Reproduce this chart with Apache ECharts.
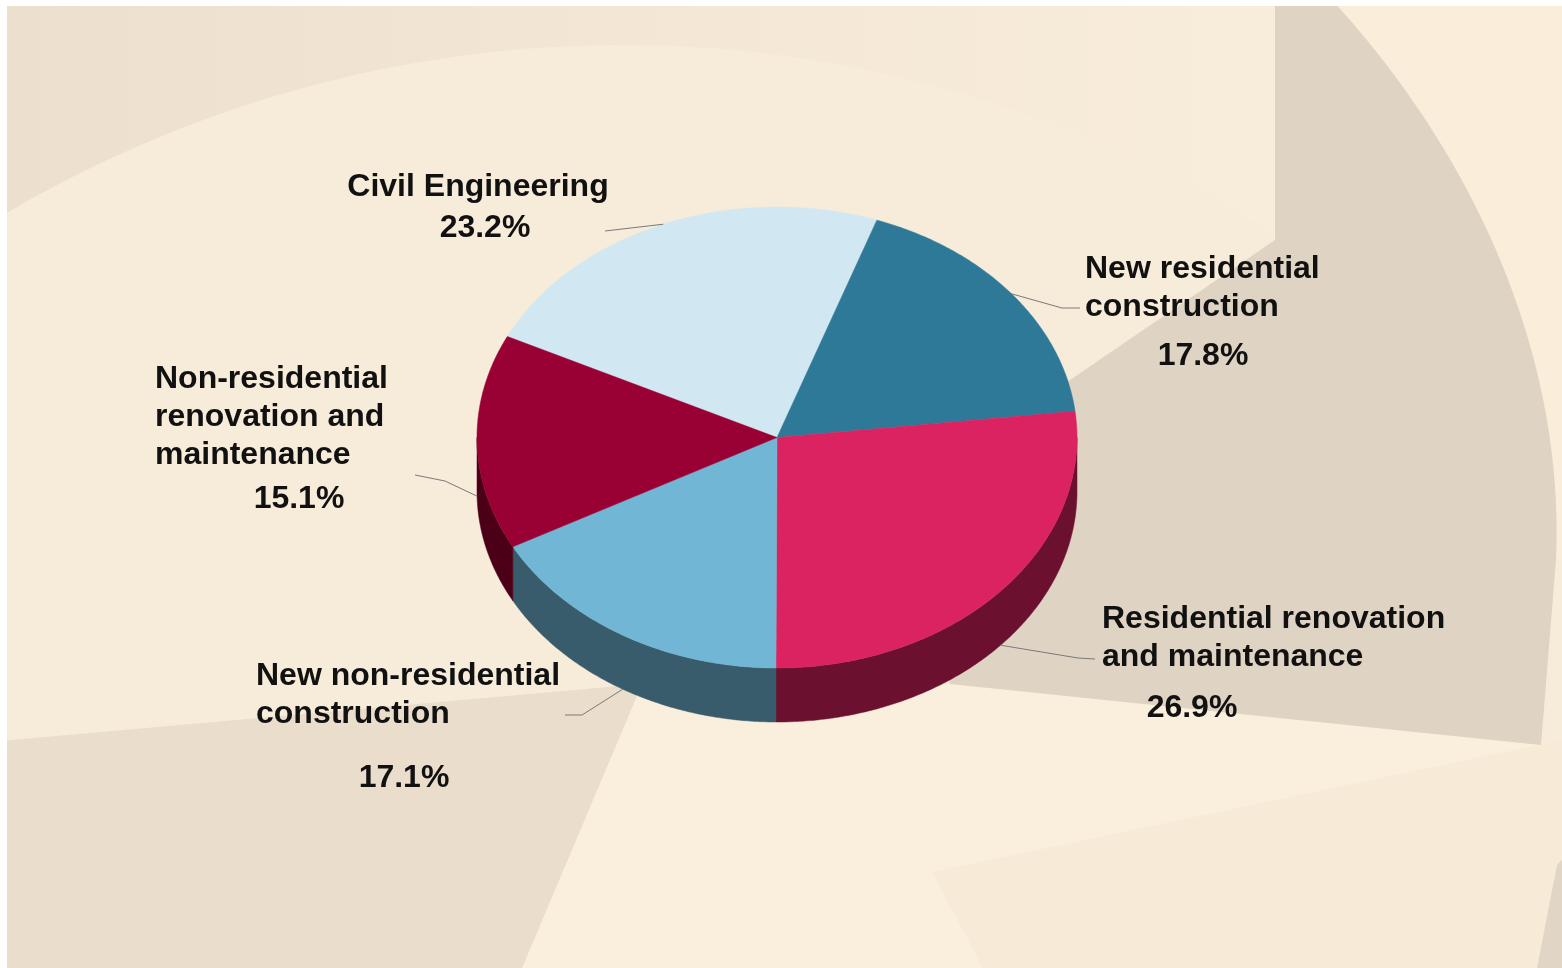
<!DOCTYPE html>
<html><head><meta charset="utf-8">
<script src="https://cdn.jsdelivr.net/npm/echarts@6/dist/echarts.min.js"></script>
<style>html,body{margin:0;padding:0;background:#fff;overflow:hidden}#c{width:1562px;height:968px}</style>
</head><body><div id="c"></div>
<script>
// ---- data ----
const categories = ['Civil Engineering', 'New residential\nconstruction', 'Residential renovation\nand maintenance', 'New non-residential\nconstruction', 'Non-residential\nrenovation and\nmaintenance'];
const shares = [23.2, 17.8, 26.9, 17.1, 15.1];
const shareLabels = ['23.2%', '17.8%', '26.9%', '17.1%', '15.1%'];

// ---- styles ----
const topColors = ['#D1E8F2', '#2E7898', '#DA2360', '#71B7D5', '#990033'];
const sideColors = ['#8FA6B0', '#1E5068', '#6C1030', '#385C6B', '#4B0018'];
const PIE = { cx: 777, cy: 437.5, rx: 300, ry: 230.5, depth: 54, start: 206 };
const FONT = 'bold 32px "Liberation Sans", Arial, sans-serif';
const labelLayout = [
  { name: [478, 187, 'center'], pct: [485, 228], line: [[605, 231]] },
  { name: [1085, 269, 'left'], pct: [1203, 356], line: [[1062, 308], [1080, 308]] },
  { name: [1102, 619, 'left'], pct: [1192, 708], line: [[1078, 658], [1095, 659]] },
  { name: [256, 676, 'left'], pct: [404, 778], line: [[582, 715], [565, 715]] },
  { name: [155, 379, 'left'], pct: [299, 499], line: [[445, 481], [415, 475]] }
];

const total = shares.reduce((a, b) => a + b, 0);
function pt(deg, dy) {
  const r = deg * Math.PI / 180;
  return [PIE.cx + PIE.rx * Math.cos(r), PIE.cy + PIE.ry * Math.sin(r) + (dy || 0)];
}
function arc(a, b, dy) {
  const pts = [];
  const n = Math.max(2, Math.ceil(Math.abs(b - a) / 0.5));
  for (let k = 0; k <= n; k++) pts.push(pt(a + (b - a) * k / n, dy));
  return pts;
}
function bezier(p0, p1, p2, p3) {
  const pts = [];
  for (let k = 0; k <= 60; k++) {
    const t = k / 60, u = 1 - t;
    pts.push([
      u * u * u * p0[0] + 3 * u * u * t * p1[0] + 3 * u * t * t * p2[0] + t * t * t * p3[0],
      u * u * u * p0[1] + 3 * u * u * t * p1[1] + 3 * u * t * t * p2[1] + t * t * t * p3[1]
    ]);
  }
  return pts;
}

function renderItem(params, api) {
  const i = params.dataIndex;
  let cum = 0;
  for (let j = 0; j < i; j++) cum += shares[j];
  const a0 = PIE.start + cum / total * 360;
  const a1 = a0 + shares[i] / total * 360;
  const children = [];
  [0, 360, 720].forEach(k => {
    const s = Math.max(a0, k), e = Math.min(a1, k + 180);
    if (s < e) {
      const pts = arc(s, e, 0).concat(arc(e, s, PIE.depth));
      children.push({ type: 'polygon', shape: { points: pts }, style: { fill: sideColors[i], stroke: sideColors[i], lineWidth: 0.5 } });
    }
  });
  children.push({ type: 'polygon', shape: { points: [[PIE.cx, PIE.cy]].concat(arc(a0, a1, 0)) }, style: { fill: topColors[i], stroke: topColors[i], lineWidth: 0.5 } });
  const mid = (a0 + a1) / 2;
  const front = Math.sin(mid * Math.PI / 180) > 0;
  const L = labelLayout[i];
  children.push({ type: 'polyline', shape: { points: [pt(mid, front ? PIE.depth : 0)].concat(L.line) }, style: { stroke: '#7a7a7a', lineWidth: 1, fill: null } });
  children.push({ type: 'text', style: { text: categories[i], x: L.name[0], y: L.name[1] - 19, font: FONT, fill: '#111', align: L.name[2], verticalAlign: 'top', lineHeight: 38 } });
  children.push({ type: 'text', style: { text: shareLabels[i], x: L.pct[0], y: L.pct[1], font: FONT, fill: '#111', align: 'center', verticalAlign: 'middle' } });
  return { type: 'group', children: children };
}

const curve = bezier([1332, 0], [1470, 150], [1565, 350], [1556, 560]);
const bg = [
  { type: 'rect', z: 0, shape: { x: 0, y: 0, width: 1562, height: 968 }, style: { fill: { type: 'linear', x: 0, y: 0, x2: 1, y2: 0, colorStops: [{ offset: 0, color: '#ECDFCE' }, { offset: 0.45, color: '#F4E7D6' }, { offset: 0.8, color: '#F8ECDA' }, { offset: 1, color: '#F9EDDA' }] } } },
  { type: 'circle', z: 1, shape: { cx: 623, cy: 1259, r: 1214 }, style: { fill: '#F7EBD9' } },
  { type: 'polygon', z: 2, shape: { points: [[642, 684], [950, 684], [1541, 745], [1562, 745], [1562, 968], [522, 968]] }, style: { fill: '#FAEFDC' } },
  { type: 'polygon', z: 3, shape: { points: [[932, 872], [1562, 740], [1562, 968], [983, 968]] }, style: { fill: '#F7EBD8' } },
  { type: 'polygon', z: 3, shape: { points: [[1557, 865], [1562, 860], [1562, 968], [1537, 968]] }, style: { fill: '#E1D5C6' } },
  { type: 'polygon', z: 2, shape: { points: curve.concat([[1562, 560], [1562, 0]]) }, style: { fill: '#FAEDD9' } },
  { type: 'polygon', z: 3, shape: { points: [[1275, 0]].concat(curve, [[1541, 745], [950, 684], [900, 500], [1040, 400.5], [1275, 240]]) }, style: { fill: '#DFD3C4' } },
  { type: 'polygon', z: 3, shape: { points: [[0, 741], [642, 684], [522, 968], [0, 968]] }, style: { fill: '#EADDCC' } },
  { type: 'rect', z: 50, shape: { x: 0, y: 0, width: 1562, height: 6 }, style: { fill: '#ffffff' } },
  { type: 'rect', z: 50, shape: { x: 0, y: 0, width: 7, height: 968 }, style: { fill: '#ffffff' } }
];

const chart = echarts.init(document.getElementById('c'), null, { renderer: 'canvas' });
chart.setOption({
  animation: false,
  graphic: { elements: bg },
  series: [{
    type: 'custom',
    coordinateSystem: 'none',
    z: 10,
    silent: true,
    renderItem: renderItem,
    data: shares.map((v, i) => ({ name: categories[i], value: v }))
  }]
});
</script></body></html>
